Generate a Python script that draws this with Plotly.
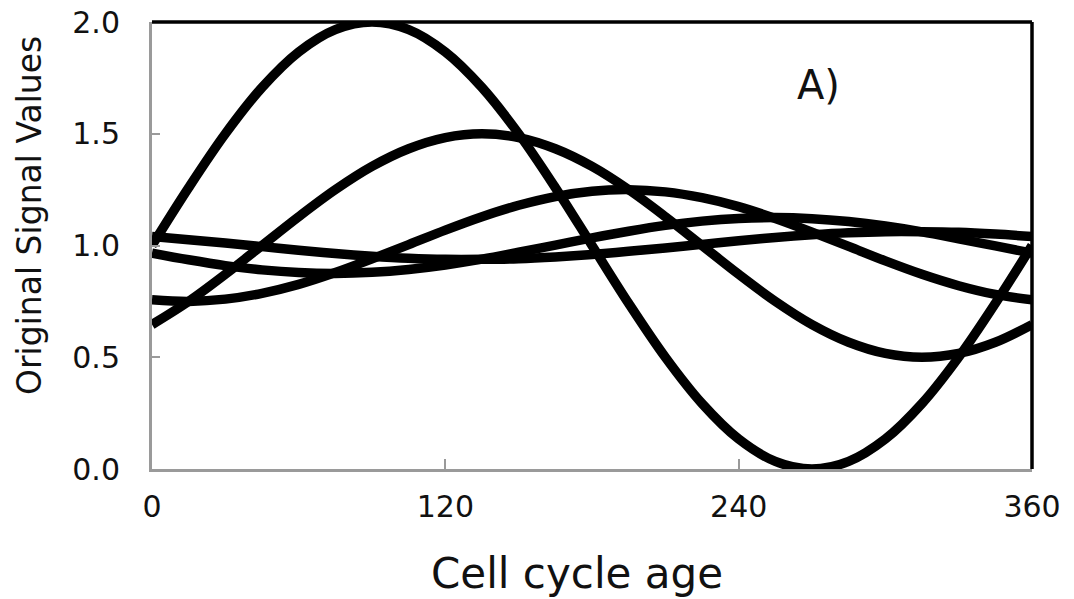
import plotly.graph_objects as go

cell_cycle_age = [0, 15, 30, 45, 60, 75, 90, 105, 120, 135, 150, 165, 180,
                  195, 210, 225, 240, 255, 270, 285, 300, 315, 330, 345, 360]

signal_1 = [1.000, 1.259, 1.500, 1.707, 1.866, 1.966, 2.000, 1.966, 1.866, 1.707, 1.500, 1.259, 1.000,
            0.741, 0.500, 0.293, 0.134, 0.034, 0.000, 0.034, 0.134, 0.293, 0.500, 0.741, 1.000]
signal_2 = [0.646, 0.750, 0.871, 1.000, 1.129, 1.250, 1.354, 1.433, 1.483, 1.500, 1.483, 1.433, 1.354,
            1.250, 1.129, 1.000, 0.871, 0.750, 0.646, 0.567, 0.517, 0.500, 0.517, 0.567, 0.646]
signal_3 = [0.757, 0.750, 0.760, 0.786, 0.826, 0.879, 0.940, 1.004, 1.069, 1.129, 1.180, 1.219, 1.243,
            1.250, 1.240, 1.214, 1.174, 1.121, 1.060, 0.996, 0.931, 0.871, 0.820, 0.781, 0.757]
signal_4 = [0.966, 0.936, 0.910, 0.891, 0.879, 0.875, 0.880, 0.893, 0.913, 0.939, 0.970, 1.002, 1.034,
            1.064, 1.090, 1.109, 1.121, 1.125, 1.120, 1.107, 1.087, 1.061, 1.030, 0.998, 0.966]
signal_5 = [1.040, 1.026, 1.011, 0.995, 0.979, 0.964, 0.952, 0.943, 0.938, 0.938, 0.941, 0.949, 0.960,
            0.974, 0.989, 1.005, 1.021, 1.036, 1.048, 1.057, 1.062, 1.062, 1.059, 1.051, 1.040]

series = [signal_1, signal_2, signal_3, signal_4, signal_5]

x_ticks = [0, 120, 240, 360]
y_ticks = [0.0, 0.5, 1.0, 1.5, 2.0]
y_tick_labels = ["0.0", "0.5", "1.0", "1.5", "2.0"]

FONT = "DejaVu Sans, Verdana, sans-serif"

fig = go.Figure()
for s in series:
    fig.add_trace(go.Scatter(
        x=cell_cycle_age, y=s, mode="lines",
        line=dict(color="black", width=9.5, shape="spline"),
        showlegend=False, hoverinfo="skip"))

fig.update_layout(
    width=1074, height=599,
    margin=dict(l=152, r=42, t=22, b=130, autoexpand=False),
    paper_bgcolor="white", plot_bgcolor="white",
    font=dict(family=FONT, color="black"),
    xaxis=dict(
        range=[0, 360], tickvals=x_ticks, ticktext=[str(v) for v in x_ticks],
        showgrid=False, zeroline=False, automargin=False,
        showline=True, linecolor="#9a9a9a", linewidth=3,
        ticks="inside", ticklen=10, tickwidth=1.5, tickcolor="#9a9a9a",
        tickfont=dict(size=30, family=FONT, color="#111"),
        ticklabelstandoff=9,
    ),
    yaxis=dict(
        range=[0, 2], tickvals=y_ticks, ticktext=y_tick_labels,
        showgrid=False, zeroline=False, automargin=False,
        showline=True, linecolor="#9a9a9a", linewidth=3,
        ticks="inside", ticklen=8, tickwidth=1.5, tickcolor="#9a9a9a",
        tickfont=dict(size=30, family=FONT, color="#111"),
        ticklabelstandoff=23,
    ),
    shapes=[
        dict(type="line", xref="paper", yref="paper", x0=0, x1=1, y0=1, y1=1,
             line=dict(color="black", width=3.5)),
        dict(type="line", xref="paper", yref="paper", x0=1, x1=1, y0=0, y1=1,
             line=dict(color="black", width=3.5)),
    ],
    annotations=[
        dict(x=272.5, y=1.72, xref="x", yref="y", text="A)", showarrow=False,
             font=dict(size=40, family=FONT, color="#111")),
        dict(x=0.483, y=-0.233, xref="paper", yref="paper", text="Cell cycle age",
             showarrow=False, xanchor="center", yanchor="middle",
             font=dict(size=42, family=FONT, color="#111")),
        dict(x=-0.1386, y=0.566, xref="paper", yref="paper", text="Original Signal Values",
             showarrow=False, xanchor="center", yanchor="middle", textangle=-90,
             font=dict(size=33, family=FONT, color="#111")),
    ],
)

fig.write_html("out.html", config={"displayModeBar": False},
               post_script="document.body.style.margin='0';document.body.style.padding='0';")
